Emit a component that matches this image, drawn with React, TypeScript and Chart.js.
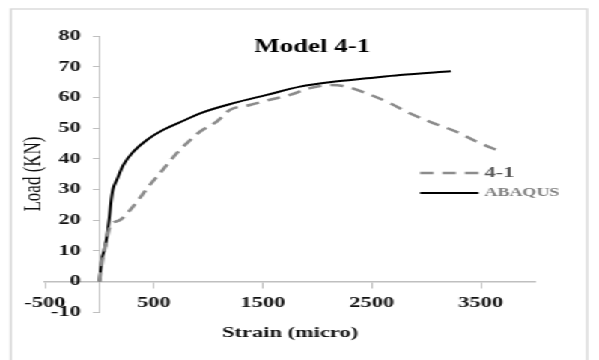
import React, { useEffect, useRef } from "react";
import { Chart, registerables } from "chart.js";

Chart.register(...registerables);

const CHART_TITLE = "Model 4-1";
const X_TITLE = "Strain (micro)";
const Y_TITLE = "Load (KN)";
const X_MIN = -500;
const X_MAX = 4000;
const Y_MIN = -10;
const Y_MAX = 80;
const X_TICKS = [-500, 500, 1500, 2500, 3500];
const Y_TICKS = [-10, 0, 10, 20, 30, 40, 50, 60, 70, 80];

const TEST_LABEL = "4-1";
const TEST_STRAIN = [0, 25, 55, 98, 190, 297, 464, 556, 710, 801, 923, 1076, 1198, 1382, 1565, 1748, 1932, 2115, 2236, 2452, 2665, 2848, 3063, 3276, 3459, 3679];
const TEST_LOAD = [0, 6.5, 11.5, 17.9, 20.0, 23.9, 31.5, 35.3, 41.8, 45.0, 48.8, 52.1, 55.9, 57.5, 59.2, 60.8, 63.0, 64.0, 63.7, 61.3, 58.1, 54.8, 51.6, 48.8, 45.6, 42.3];

const FEM_LABEL = "ABAQUS";
const FEM_STRAIN = [0, 22, 52, 73, 92, 105, 123, 160, 220, 312, 435, 587, 786, 924, 1229, 1536, 1841, 2147, 2453, 2759, 3225];
const FEM_LOAD = [0, 7.0, 11.3, 15.7, 21.1, 25.5, 29.8, 33.1, 38.0, 42.3, 46.1, 49.4, 52.6, 54.8, 58.1, 60.8, 63.5, 65.1, 66.2, 67.3, 68.5];

const STRETCH = 599 / 400;
const SERIF = '"Liberation Serif", "Times New Roman", serif';

export default function App() {
  const ref = useRef<HTMLCanvasElement>(null);

  useEffect(() => {
    if (!ref.current) return;
    const toXY = (xs: number[], ys: number[]) => xs.map((x, i) => ({ x, y: ys[i] }));
    const tickFont = { family: SERIF, size: 15, weight: "bold" as const };

    const framePlugin = {
      id: "frame",
      beforeDraw(chart: any) {
        const { ctx, width, height } = chart;
        ctx.save();
        ctx.fillStyle = "#ffffff";
        ctx.fillRect(0, 0, width, height);
        ctx.strokeStyle = "#d9d9d9";
        ctx.lineWidth = 1.4;
        ctx.strokeRect(7.3, 9, 384.7, height + 20);
        ctx.restore();
      },
    };

    const overlayPlugin = {
      id: "overlay",
      afterDraw(chart: any) {
        const ctx = chart.ctx;
        const yScale = chart.scales.y;
        ctx.save();
        // y tick labels, placed by the y scale
        ctx.fillStyle = "#111111";
        ctx.font = `bold 15px ${SERIF}`;
        ctx.textAlign = "right";
        ctx.textBaseline = "middle";
        Y_TICKS.forEach((v) => {
          ctx.fillText(String(v), 54, yScale.getPixelForValue(v));
        });
        // y axis title
        ctx.save();
        ctx.translate(22.7, (yScale.top + yScale.bottom) / 2);
        ctx.rotate(-Math.PI / 2);
        ctx.font = `17px ${SERIF}`;
        ctx.textAlign = "center";
        ctx.fillText(Y_TITLE, 0, 0);
        ctx.restore();
        // chart title
        ctx.fillStyle = "#000000";
        ctx.font = `bold 18px ${SERIF}`;
        ctx.textAlign = "center";
        ctx.fillText(CHART_TITLE, 208.5, 47);
        // legend
        const items = [
          { y: 173, font: `bold 15px ${SERIF}`, color: "#595959" },
          { y: 193, font: `bold 12px ${SERIF}`, color: "#7f7f7f" },
        ];
        chart.data.datasets.forEach((ds: any, i: number) => {
          const it = items[i];
          ctx.strokeStyle = ds.borderColor;
          ctx.lineWidth = ds.borderWidth;
          ctx.setLineDash(ds.borderDash || []);
          ctx.beginPath();
          ctx.moveTo(280.5, it.y);
          ctx.lineTo(319.5, it.y);
          ctx.stroke();
          ctx.setLineDash([]);
          ctx.font = it.font;
          ctx.fillStyle = it.color;
          ctx.textAlign = "left";
          ctx.fillText(ds.label, 323.5, it.y);
        });
        ctx.restore();
      },
    };

    const chart = new Chart(ref.current, {
      type: "scatter",
      data: {
        datasets: [
          {
            label: TEST_LABEL,
            data: toXY(TEST_STRAIN, TEST_LOAD),
            showLine: true,
            borderColor: "#8c8c8c",
            borderWidth: 2.5,
            borderDash: [9, 6],
            pointRadius: 0,
            cubicInterpolationMode: "monotone",
          },
          {
            label: FEM_LABEL,
            data: toXY(FEM_STRAIN, FEM_LOAD),
            showLine: true,
            borderColor: "#000000",
            borderWidth: 2,
            pointRadius: 0,
            cubicInterpolationMode: "monotone",
          },
        ],
      },
      options: {
        animation: false,
        responsive: true,
        maintainAspectRatio: false,
        layout: { padding: { left: 30, right: 42.5, top: 36, bottom: 48 } },
        plugins: { legend: { display: false }, title: { display: false }, tooltip: { enabled: false } },
        scales: {
          x: {
            type: "linear",
            min: X_MIN,
            max: X_MAX,
            position: { y: 0 } as any,
            afterBuildTicks: (s: any) => {
              s.ticks = X_TICKS.map((v) => ({ value: v }));
            },
            grid: { drawOnChartArea: false, tickLength: 6, color: "#bfbfbf", lineWidth: 1 },
            border: { display: true, color: "#bfbfbf", width: 1.5 },
            ticks: {
              font: tickFont,
              color: "#111111",
              padding: 7,
              maxRotation: 0,
              autoSkip: false,
              callback: (v: any) => String(v),
            },
            title: { display: true, text: X_TITLE, color: "#111111", font: tickFont, padding: 4.5 },
          },
          y: {
            type: "linear",
            min: Y_MIN,
            max: Y_MAX,
            position: { x: 0 } as any,
            afterBuildTicks: (s: any) => {
              s.ticks = Y_TICKS.map((v) => ({ value: v }));
            },
            grid: { drawOnChartArea: false, tickLength: 4, color: "#bfbfbf", lineWidth: 1 },
            border: { display: true, color: "#bfbfbf", width: 1 },
            ticks: { display: false },
            title: { display: false },
          },
        },
      },
      plugins: [framePlugin, overlayPlugin],
    } as any);

    return () => chart.destroy();
  }, []);

  return (
    <div
      style={{
        position: "absolute",
        left: 0,
        top: 0,
        width: 400,
        height: 360,
        transform: `scaleX(${STRETCH})`,
        transformOrigin: "0 0",
        background: "#ffffff",
      }}
    >
      <canvas ref={ref} />
    </div>
  );
}
